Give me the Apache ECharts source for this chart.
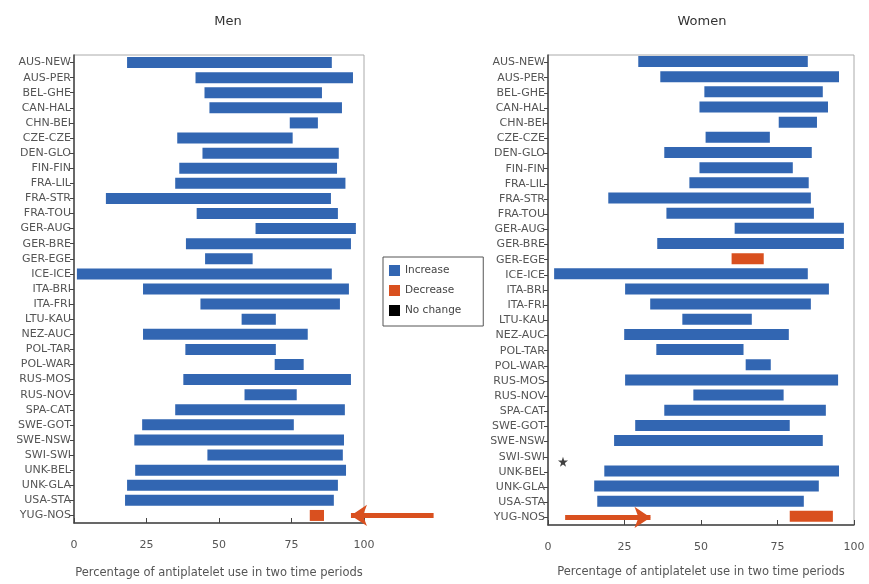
<!DOCTYPE html>
<html>
<head>
<meta charset="utf-8">
<script src="https://cdn.jsdelivr.net/npm/echarts@6/dist/echarts.min.js"></script>
<style>
html,body{margin:0;padding:0;background:#fff;}
#c{width:869px;height:584px;}
</style>
</head>
<body>
<div id="c"></div>
<script>
// ---- data ----
const centres = ['AUS-NEW','AUS-PER','BEL-GHE','CAN-HAL','CHN-BEI','CZE-CZE','DEN-GLO','FIN-FIN','FRA-LIL','FRA-STR','FRA-TOU','GER-AUG','GER-BRE','GER-EGE','ICE-ICE','ITA-BRI','ITA-FRI','LTU-KAU','NEZ-AUC','POL-TAR','POL-WAR','RUS-MOS','RUS-NOV','SPA-CAT','SWE-GOT','SWE-NSW','SWI-SWI','UNK-BEL','UNK-GLA','USA-STA','YUG-NOS'];
// percentage of antiplatelet use, first and second period
const menPeriod1 = [18.3,41.9,45.0,46.7,74.4,35.6,44.3,36.3,34.9,11.0,42.3,62.6,38.6,45.2,1.0,23.8,43.6,57.8,23.8,38.4,69.2,37.7,58.8,34.9,23.5,20.8,46.0,21.1,18.3,17.6,86.2];
const menPeriod2 = [88.9,96.2,85.5,92.4,84.1,75.4,91.3,90.7,93.6,88.6,91.0,97.2,95.5,61.6,88.9,94.8,91.7,69.6,80.6,69.6,79.2,95.5,76.8,93.4,75.8,93.1,92.7,93.8,91.0,89.6,81.3];
const womenPeriod1 = [29.5,36.7,51.1,49.5,75.4,51.5,38.0,49.5,46.2,19.7,38.7,61.0,35.7,70.5,2.0,25.2,33.4,43.9,24.9,35.4,64.6,25.2,47.5,38.0,28.5,21.6,null,18.4,15.1,16.1,93.1];
const womenPeriod2 = [84.9,95.1,89.8,91.5,87.9,72.5,86.2,80.0,85.2,85.9,86.9,96.7,96.7,60.0,84.9,91.8,85.9,66.6,78.7,63.9,72.8,94.8,77.0,90.8,79.0,89.8,null,95.1,88.5,83.6,79.0];
const xTicks = [0,25,50,75,100];
// annotations (values on the x scale)
const menArrow = {centre:'YUG-NOS', from:124, to:95.5};
const womenArrow = {centre:'YUG-NOS', from:5.6, to:33.5};
const womenStar = {centre:'SWI-SWI', value:4.9};

// ---- helpers ----
function split(p1, p2){
  const base=[], inc=[], dec=[];
  for(let i=0;i<p1.length;i++){
    if(p1[i]==null||p2[i]==null){base.push(0);inc.push(0);dec.push(0);continue;}
    base.push(Math.min(p1[i],p2[i]));
    inc.push(p2[i]>p1[i]? +(p2[i]-p1[i]).toFixed(2):0);
    dec.push(p1[i]>p2[i]? +(p1[i]-p2[i]).toFixed(2):0);
  }
  return {base,inc,dec};
}
const men = split(menPeriod1, menPeriod2);
const women = split(womenPeriod1, womenPeriod2);

const BLUE='#3266b2', RED='#d9501f', FONT='DejaVu Sans';
const cats = centres.slice().reverse();
const rev = a => a.slice().reverse();

function xAxis(gi, gap){
  return {type:'value', gridIndex:gi, min:xTicks[0], max:xTicks[xTicks.length-1], interval:xTicks[1]-xTicks[0],
    name:'Percentage of antiplatelet use in two time periods', nameLocation:'middle', nameGap:gap,
    nameTextStyle:{fontFamily:FONT, fontSize:11.5, color:'#555'},
    axisLine:{show:true, lineStyle:{color:'#444', width:1.5}},
    axisTick:{show:true, inside:true, length:5, lineStyle:{color:'#444'}},
    axisLabel:{fontFamily:FONT, fontSize:11, color:'#555', margin:17},
    splitLine:{show:false}};
}
function yAxis(gi){
  return {type:'category', gridIndex:gi, data:cats,
    axisLine:{show:true, lineStyle:{color:'#444', width:1.5}},
    axisTick:{show:true, alignWithLabel:true, length:4, lineStyle:{color:'#444'}},
    axisLabel:{fontFamily:FONT, fontSize:11, color:'#555', margin:3}};
}
function barSeries(gi, d, prefix){
  return [
    {name:prefix+'base', type:'bar', xAxisIndex:gi, yAxisIndex:gi, stack:'s'+gi, data:rev(d.base),
      itemStyle:{color:'transparent'}, barWidth:11, silent:true},
    {name:'Increase', type:'bar', xAxisIndex:gi, yAxisIndex:gi, stack:'s'+gi, data:rev(d.inc),
      itemStyle:{color:BLUE}, barWidth:11},
    {name:'Decrease', type:'bar', xAxisIndex:gi, yAxisIndex:gi, stack:'s'+gi, data:rev(d.dec),
      itemStyle:{color:RED}, barWidth:11}
  ];
}
function arrowSeries(gi, a){
  return {type:'lines', coordinateSystem:'cartesian2d', xAxisIndex:gi, yAxisIndex:gi, clip:false,
    symbol:['none','arrow'], symbolSize:[13,16], silent:true,
    lineStyle:{color:RED, width:5, opacity:1},
    data:[{coords:[[a.from, cats.indexOf(a.centre)],[a.to, cats.indexOf(a.centre)]]}]};
}

const chart = echarts.init(document.getElementById('c'), null, {renderer:'canvas'});
chart.setOption({
  animation:false,
  backgroundColor:'#fff',
  textStyle:{fontFamily:FONT},
  title:[
    {text:'Men', left:223, top:10, textAlign:'center', textStyle:{fontFamily:FONT, fontSize:13, fontWeight:'normal', color:'#333'}},
    {text:'Women', left:697, top:10, textAlign:'center', textStyle:{fontFamily:FONT, fontSize:13, fontWeight:'normal', color:'#333'}}
  ],
  grid:[
    {left:74, right:505, top:55, bottom:57, show:true, borderColor:'#aaa', borderWidth:1, backgroundColor:'#fff'},
    {left:548, right:15, top:55, bottom:59, show:true, borderColor:'#aaa', borderWidth:1, backgroundColor:'#fff'}
  ],
  legend:{data:['Increase','Decrease','No change'], orient:'vertical', left:383, top:257,
    itemWidth:11, itemHeight:11, itemGap:9, padding:[8,22,10,6], icon:'rect',
    borderColor:'#555', borderWidth:1, backgroundColor:'#fff',
    textStyle:{fontFamily:FONT, fontSize:10.5, color:'#444'}, selectedMode:false},
  xAxis:[xAxis(0, 44), xAxis(1, 41)],
  yAxis:[yAxis(0), yAxis(1)],
  series:[
    ...barSeries(0, men, 'm'),
    ...barSeries(1, women, 'w'),
    {name:'No change', type:'bar', xAxisIndex:1, yAxisIndex:1, data:[], itemStyle:{color:'#000'}},
    {name:'star', type:'scatter', xAxisIndex:1, yAxisIndex:1, symbol:'path://M50,0 L61,35 L98,35 L68,57 L79,91 L50,70 L21,91 L32,57 L2,35 L39,35 Z',
      symbolSize:10, symbolOffset:[0,5], itemStyle:{color:'#111'}, data:[[womenStar.value, womenStar.centre]]},
    arrowSeries(0, menArrow),
    arrowSeries(1, womenArrow)
  ]
});
</script>
</body>
</html>
